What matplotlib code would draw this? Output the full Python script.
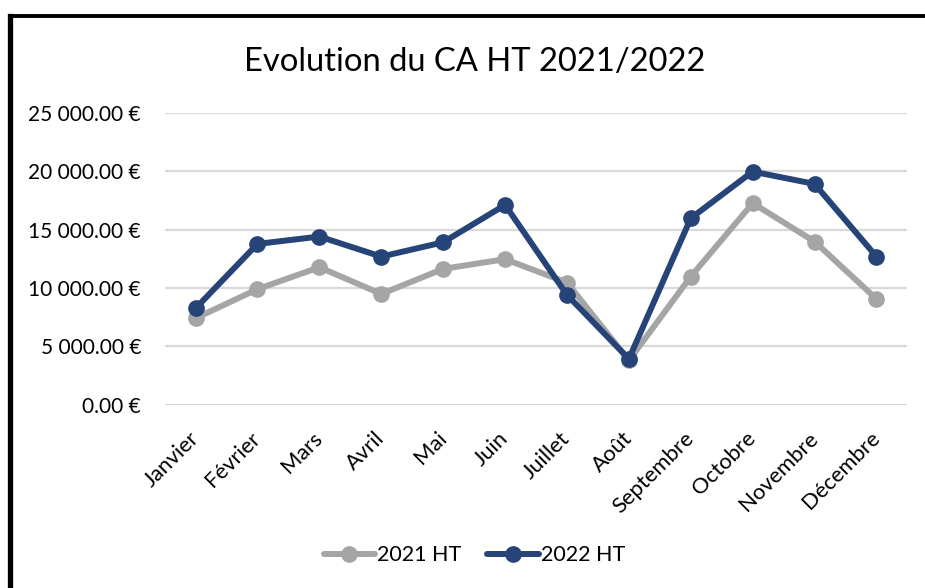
import matplotlib
matplotlib.use("Agg")
import matplotlib.pyplot as plt
from matplotlib.lines import Line2D
from matplotlib.ticker import FuncFormatter

plt.rcParams['font.family'] = ['Lato', 'DejaVu Sans']

# data
mois = ['Janvier', 'Février', 'Mars', 'Avril', 'Mai', 'Juin', 'Juillet',
        'Août', 'Septembre', 'Octobre', 'Novembre', 'Décembre']
ca_2021 = [7400, 9890, 11770, 9480, 11630, 12460, 10450, 3780, 10970, 17260, 13970, 9050]
ca_2022 = [8250, 13770, 14400, 12680, 13910, 17110, 9400, 3910, 15970, 19970, 18910, 12680]
y_ticks = [0, 5000, 10000, 15000, 20000, 25000]

gris = '#A5A5A5'
bleu = '#264478'

fig = plt.figure(figsize=(9.25, 5.88), dpi=100)
ax = fig.add_axes([0.178, 0.312, 0.803, 0.496])

x = list(range(len(mois)))
ax.plot(x, ca_2021, color=gris, lw=4.3, marker='o', ms=11, label='2021 HT',
        solid_capstyle='round', zorder=3)
ax.plot(x, ca_2022, color=bleu, lw=4.3, marker='o', ms=11, label='2022 HT',
        solid_capstyle='round', zorder=4)

ax.set_xlim(-0.5, len(mois) - 0.5)
ax.set_ylim(0, 25000)
ax.set_yticks(y_ticks)


def euro(v, pos):
    s = f"{v:,.2f}".replace(',', ' ')
    return s + ' €'


ax.yaxis.set_major_formatter(FuncFormatter(euro))
ax.set_xticks(x)
ax.set_xticklabels(mois, rotation=45, ha='right', va='center', rotation_mode='anchor')
ax.tick_params(axis='x', length=0, pad=22, labelsize=15.8, colors='black')
ax.tick_params(axis='y', length=0, pad=17, labelsize=15, colors='black')
ax.yaxis.grid(True, color='#D9D9D9', lw=1.6)
ax.set_axisbelow(True)
for s in ax.spines.values():
    s.set_visible(False)

fig.text(0.513, 0.895, 'Evolution du CA HT 2021/2022', ha='center', va='center',
         fontsize=23.6)

fig.legend(loc='center', bbox_to_anchor=(0.513, 0.056), ncol=2, frameon=False,
           fontsize=15.5, handlelength=2.4, handletextpad=0.1, columnspacing=1.2)

# chart border (only left and top visible in the crop)
fig.add_artist(Line2D([0.0108, 0.0108], [0, 0.973], color='black', lw=3.8,
                      transform=fig.transFigure, solid_capstyle='projecting'))
fig.add_artist(Line2D([0.0108, 1.0], [0.973, 0.973], color='black', lw=2.8,
                      transform=fig.transFigure, solid_capstyle='butt'))

fig.savefig('out.png', dpi=100)
